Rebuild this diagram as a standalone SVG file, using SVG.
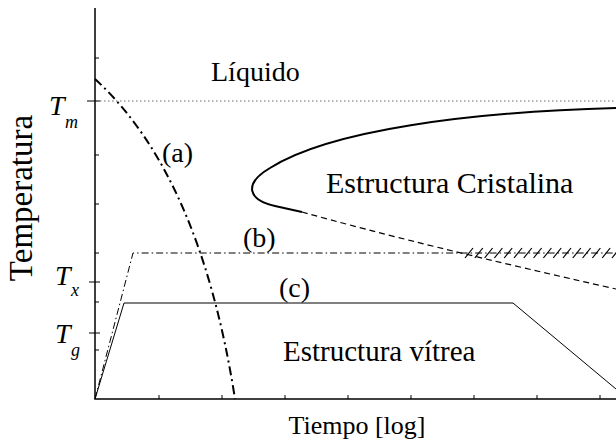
<svg xmlns="http://www.w3.org/2000/svg" width="616" height="441" viewBox="0 0 616 441">
<style>
text{font-family:"Liberation Serif","Times New Roman",serif;fill:#000}
.ax{stroke:#000;stroke-width:1.5;fill:none}
.tk{stroke:#000;stroke-width:1;fill:none}
.it{font-style:italic}
</style>
<rect width="616" height="441" fill="#fff"/>
<g id="axes">
<path class="ax" d="M95,8 V399 H616"/>
<path class="tk" d="M95,58 h4 M95,155 h4 M95,204 h4 M95,253 h4 M95,302 h4 M95,350 h4 M87,101 h13 M89,282 h11 M89,333 h11"/>
<path class="tk" d="M159,399 v-4 M222,399 v-4 M285,399 v-4 M348,399 v-4 M411,399 v-4 M474,399 v-4 M537,399 v-4 M600,399 v-4"/>
<text x="357" y="434" font-size="26" text-anchor="middle">Tiempo [log]</text>
<text transform="translate(32,198) rotate(-90)" font-size="33" text-anchor="middle">Temperatura</text>
<text class="it" x="49" y="115" font-size="28">T</text>
<text class="it" x="65" y="128" font-size="18">m</text>
<text class="it" x="55" y="285" font-size="28">T</text>
<text class="it" x="71" y="296" font-size="18">x</text>
<text class="it" x="55" y="343" font-size="28">T</text>
<text class="it" x="71" y="356" font-size="18">g</text>
</g>
<g id="connectors">
<path id="tm-line" d="M96,101 H616" stroke="#666" stroke-width="1" stroke-dasharray="1.5 2.5" fill="none"/>
<path id="crystal-solid" d="M616,108 C470,112 330,130 270,168 C243,184 248,200 275,206 L302,212" stroke="#000" stroke-width="2" fill="none"/>
<path id="crystal-dashed" d="M302,212 Q420,245 616,289" stroke="#000" stroke-width="1.2" stroke-dasharray="6 4" fill="none"/>
<path id="curve-a" d="M95,79 Q200,175 235,399" stroke="#000" stroke-width="2" stroke-dasharray="9 4 2 4" fill="none"/>
<path id="curve-b" d="M95,399 L133,253 L616,253" stroke="#000" stroke-width="1" stroke-dasharray="7 3 1.5 3" fill="none"/>
<path id="hatch" d="M465,258 l8,-10 M474.8,258 l8,-10 M484.6,258 l8,-10 M494.4,258 l8,-10 M504.2,258 l8,-10 M514,258 l8,-10 M523.8,258 l8,-10 M533.6,258 l8,-10 M543.4,258 l8,-10 M553.2,258 l8,-10 M563,258 l8,-10 M572.8,258 l8,-10 M582.6,258 l8,-10 M592.4,258 l8,-10 M602.2,258 l8,-10 M612,258 l8,-10" stroke="#000" stroke-width="1.2" fill="none"/>
<path id="curve-c" d="M95,399 L124,303 L513,303 L616,389" stroke="#000" stroke-width="1" fill="none"/>
</g>
<g id="label-liquido"><text x="211" y="81" font-size="28">Líquido</text></g>
<g id="label-cristalina"><text x="326" y="193" font-size="30">Estructura Cristalina</text></g>
<g id="label-vitrea"><text x="283" y="361" font-size="29">Estructura vítrea</text></g>
<g id="label-a"><text x="162" y="162" font-size="28">(a)</text></g>
<g id="label-b"><text x="243" y="247" font-size="28">(b)</text></g>
<g id="label-c"><text x="279" y="297" font-size="28">(c)</text></g>
</svg>
